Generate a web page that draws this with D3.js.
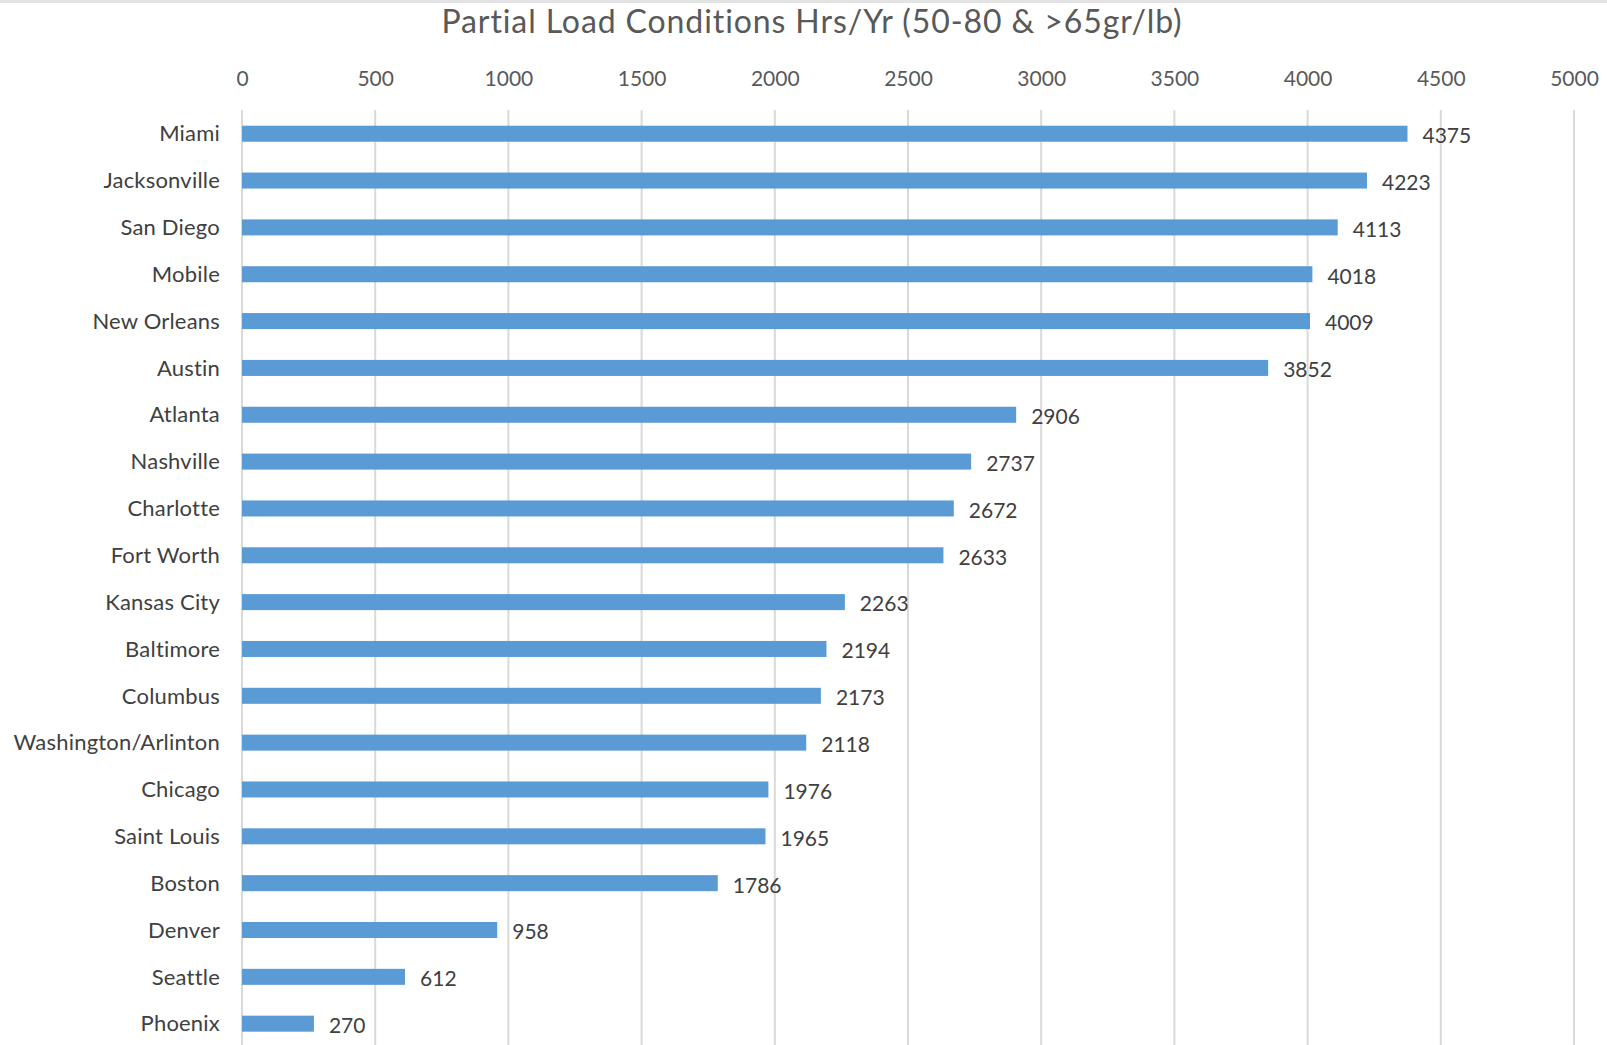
<!DOCTYPE html>
<html>
<head>
<meta charset="utf-8">
<script src="https://cdn.jsdelivr.net/npm/d3@7"></script>
<style>
  html, body { margin: 0; padding: 0; background: #fff; overflow: hidden; }
  svg { display: block; }
</style>
</head>
<body>
<svg id="chart" width="1607" height="1045"></svg>
<script>
// City names, top to bottom
const cities = [
  "Miami", "Jacksonville", "San Diego", "Mobile", "New Orleans", "Austin",
  "Atlanta", "Nashville", "Charlotte", "Fort Worth", "Kansas City", "Baltimore",
  "Columbus", "Washington/Arlinton", "Chicago", "Saint Louis", "Boston",
  "Denver", "Seattle", "Phoenix"
];
// Partial load hours per year for each city
const hours = [
  4375, 4223, 4113, 4018, 4009, 3852,
  2906, 2737, 2672, 2633, 2263, 2194,
  2173, 2118, 1976, 1965, 1786,
  958, 612, 270
];
// Axis ticks
const xTicks = [0, 500, 1000, 1500, 2000, 2500, 3000, 3500, 4000, 4500, 5000];
const titleText = "Partial Load Conditions Hrs/Yr (50-80 & >65gr/lb)";

const W = 1607, H = 1045;
const svg = d3.select("#chart");
const font = "Lato, 'Open Sans', sans-serif";

// top band
svg.append("rect").attr("x", 0).attr("y", 0).attr("width", W).attr("height", 3).attr("fill", "#e3e3e3");

const x = d3.scaleLinear().domain([0, 5000]).range([242, 1574]);
const step = 46.84;
const y = d3.scaleBand().domain(cities).range([110.3, 110.3 + step * cities.length])
  .paddingInner(0.658).paddingOuter(0.329);

// title
svg.append("text")
  .attr("x", 812).attr("y", 33)
  .attr("text-anchor", "middle")
  .attr("font-family", font).attr("font-size", 32)
  .attr("letter-spacing", 0.9)
  .attr("fill", "#595959")
  .text(titleText);

// vertical gridlines
svg.append("g").selectAll("line").data(xTicks).join("line")
  .attr("x1", d => x(d)).attr("x2", d => x(d))
  .attr("y1", 110).attr("y2", H)
  .attr("stroke", "#d9d9d9").attr("stroke-width", 2);

// top axis labels
const axis = d3.axisTop(x).tickValues(xTicks).tickSize(0).tickPadding(0).tickFormat(d3.format("d"));
const gAxis = svg.append("g").attr("transform", "translate(0,86)").call(axis);
gAxis.select(".domain").remove();
gAxis.selectAll("text")
  .attr("font-family", font).attr("font-size", 21)
  .attr("fill", "#595959");

// bars
svg.append("g").selectAll("rect").data(cities).join("rect")
  .attr("x", x(0))
  .attr("y", d => y(d))
  .attr("width", (d, i) => x(hours[i]) - x(0))
  .attr("height", y.bandwidth())
  .attr("fill", "#5b9bd5");

// category labels
svg.append("g").selectAll("text").data(cities).join("text")
  .attr("x", 220)
  .attr("y", d => y(d) + y.bandwidth() / 2)
  .attr("dy", "0.35em")
  .attr("text-anchor", "end")
  .attr("font-family", font).attr("font-size", 22)
  .attr("letter-spacing", 0.2)
  .attr("fill", "#404040")
  .text(d => d);

// value labels
svg.append("g").selectAll("text").data(cities).join("text")
  .attr("x", (d, i) => x(hours[i]) + 15)
  .attr("y", d => y(d) + y.bandwidth() / 2 + 2)
  .attr("dy", "0.35em")
  .attr("font-family", font).attr("font-size", 21)
  .attr("fill", "#404040")
  .text((d, i) => hours[i]);
</script>
</body>
</html>
